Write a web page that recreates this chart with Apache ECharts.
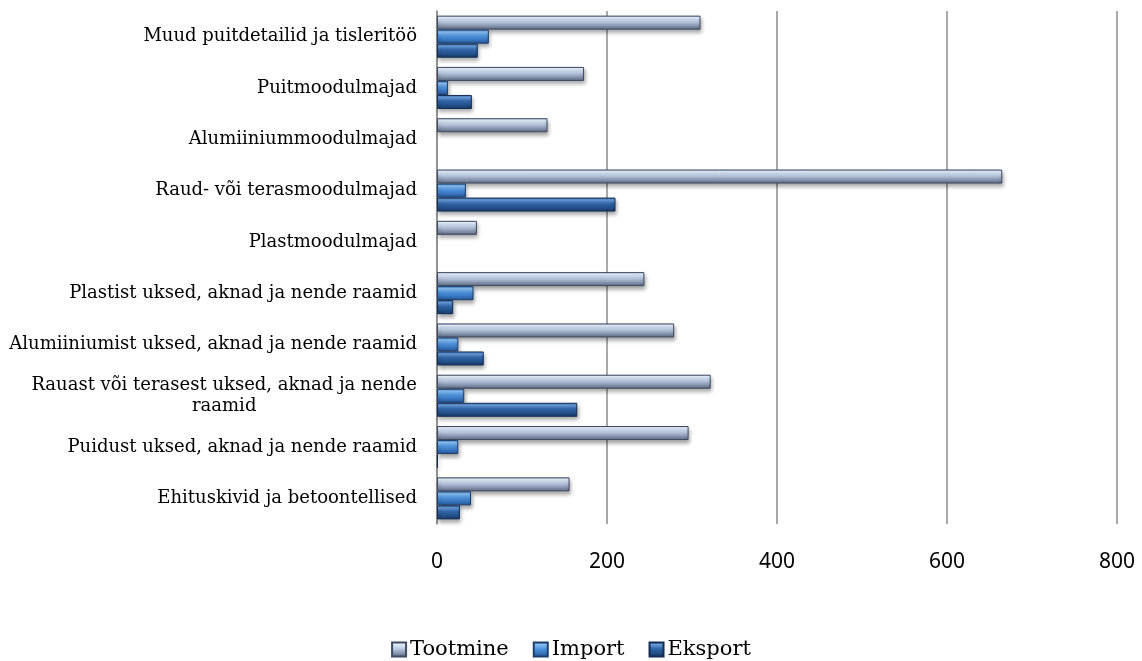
<!DOCTYPE html>
<html><head><meta charset="utf-8">
<script src="https://cdn.jsdelivr.net/npm/echarts@6/dist/echarts.min.js"></script>
<style>html,body{margin:0;padding:0;background:#fff}#c{width:1142px;height:661px}</style>
</head><body><div id="c"></div>
<script>
// categories listed top to bottom
const categories = [
  'Muud puitdetailid ja tisleritöö',
  'Puitmoodulmajad',
  'Alumiiniummoodulmajad',
  'Raud- või terasmoodulmajad',
  'Plastmoodulmajad',
  'Plastist uksed, aknad ja nende raamid',
  'Alumiiniumist uksed, aknad ja nende raamid',
  'Rauast või terasest uksed, aknad ja nende\nraamid',
  'Puidust uksed, aknad ja nende raamid',
  'Ehituskivid ja betoontellised'
];
const tootmine = [310, 173, 130, 665, 47, 244, 279, 322, 296, 156];
const importVals = [61, 13, 0, 34, 0, 43, 25, 32, 25, 40];
const eksport = [48, 41, 0, 210, 0, 19, 55, 165, 1, 27];
const xTicks = [0, 200, 400, 600, 800];

function grad(stops){return {type:'linear',x:0,y:0,x2:0,y2:1,colorStops:stops.map(s=>({offset:s[0],color:s[1]}))};}
const styles = {
  'Tootmine': {color: grad([[0,'#8fa2c4'],[0.12,'#e9f4ff'],[0.4,'#c3d2ea'],[0.7,'#8c9ab4'],[1,'#5a677f']]), borderColor:'#3f4b62'},
  'Import': {color: grad([[0,'#3f7fcc'],[0.18,'#8cc2f5'],[0.45,'#4f95e0'],[1,'#22569a']]), borderColor:'#1d3e6c'},
  'Eksport': {color: grad([[0,'#3a70b4'],[0.18,'#6a9edd'],[0.45,'#3066aa'],[1,'#173a68']]), borderColor:'#142d52'}
};
function mk(name, data){
  return {name, type:'bar', data: data.map(v => v === 0 ? '-' : v), barGap:'0%', barCategoryGap:'18%',
    itemStyle: Object.assign({borderWidth:1, shadowColor:'rgba(0,0,0,0.35)', shadowBlur:4, shadowOffsetY:3, shadowOffsetX:1}, styles[name])};
}
const lbl = {fontFamily:'DejaVu Serif', fontSize:18, color:'#000', lineHeight:21};
const chart = echarts.init(document.getElementById('c'));
chart.setOption({
  animation:false,
  grid:{left:437, right:25, top:11, bottom:137, containLabel:false},
  legend:{bottom:-4, left:'center', icon:'rect', itemWidth:14, itemHeight:14, itemGap:24,
    data:['Tootmine','Import','Eksport'],
    textStyle:{fontFamily:'DejaVu Serif', fontSize:21, color:'#000', padding:[0,0,0,-1]}},
  xAxis:{type:'value', min:xTicks[0], max:xTicks[xTicks.length-1], interval:200,
    axisLine:{show:false}, axisTick:{show:false},
    splitLine:{show:true, lineStyle:{color:'#8c8c8c', width:1.5}},
    axisLabel:{fontFamily:'Noto Sans', fontSize:21, color:'#000', margin:28}},
  yAxis:{type:'category', inverse:true, data:categories,
    axisLine:{show:true, lineStyle:{color:'#8c8c8c', width:1.5}}, axisTick:{show:false},
    axisLabel:Object.assign({margin:20,
      formatter:function(v){ if(v.indexOf('\n')>=0){const p=v.split('\n'); return '{a|'+p[0]+'}\n{c|'+p[1]+'}';} return v; },
      rich:{a:Object.assign({},lbl), c:Object.assign({align:'center'},lbl)}}, lbl)},
  series:[mk('Tootmine',tootmine), mk('Import',importVals), mk('Eksport',eksport)]
});
</script></body></html>
